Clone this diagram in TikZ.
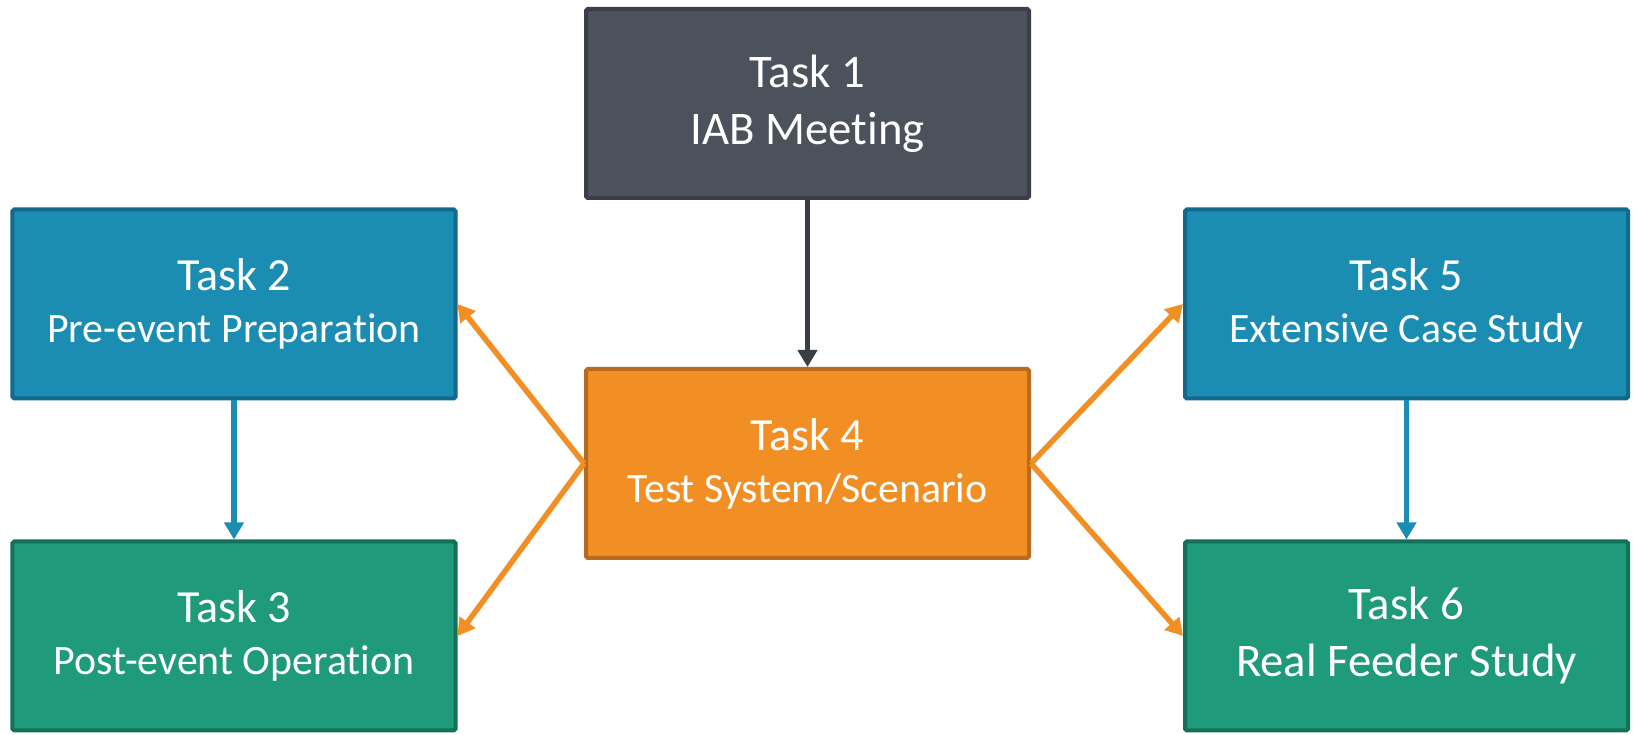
\documentclass[tikz,border=0pt]{standalone}
\usepackage{fontspec}
\setmainfont{Carlito}[Ligatures=NoCommon]
\usetikzlibrary{arrows.meta}

\definecolor{slatefill}{HTML}{4B525B}
\definecolor{slateline}{HTML}{3A3F46}
\definecolor{bluefill}{HTML}{1C8DB2}
\definecolor{blueline}{HTML}{13698B}
\definecolor{greenfill}{HTML}{1F9A7B}
\definecolor{greenline}{HTML}{15705A}
\definecolor{orangefill}{HTML}{F18F24}
\definecolor{orangeline}{HTML}{B86B1F}

\newcommand{\bigtxt}{\fontsize{26.6pt}{32.4pt}\selectfont}
\newcommand{\smalltxt}{\fontsize{23.8pt}{29.6pt}\selectfont}

\begin{document}
\begin{tikzpicture}[
    taskbox/.style={draw, line width=0.08cm, rounded corners=1pt,
      minimum width=8.86cm, minimum height=3.78cm, text=white,
      align=center},
    flow/.style={line width=0.11cm,
      -{Triangle[length=0.34cm,width=0.38cm]}}
  ]
  \useasboundingbox (0,0) rectangle (32.66,14.70);
  % task boxes
  \node[taskbox, fill=slatefill, draw=slateline, font=\bigtxt]
    (t1) at (16.15,12.63) {Task 1\\IAB Meeting};
  \node[taskbox, fill=orangefill, draw=orangeline, font=\fontsize{26.2pt}{29.6pt}\selectfont]
    (t4) at (16.15,5.43) {Task 4\\{\smalltxt Test System/Scenario}};
  \node[taskbox, fill=bluefill, draw=blueline, font=\fontsize{26.2pt}{29.6pt}\selectfont]
    (t2) at (4.68,8.62) {Task 2\\{\smalltxt Pre-event Preparation}};
  \node[taskbox, fill=greenfill, draw=greenline, font=\fontsize{26.2pt}{29.6pt}\selectfont]
    (t3) at (4.68,1.98) {Task 3\\{\smalltxt Post-event Operation}};
  \node[taskbox, fill=bluefill, draw=blueline, font=\fontsize{26.2pt}{29.6pt}\selectfont]
    (t5) at (28.13,8.62) {Task 5\\{\smalltxt Extensive Case Study}};
  \node[taskbox, fill=greenfill, draw=greenline, font=\bigtxt]
    (t6) at (28.13,1.98) {Task 6\\Real Feeder Study};
  % connectors
  \draw[flow, slateline] (t1.south) -- (t4.north);
  \draw[flow, bluefill] (t2.south) -- (t3.north);
  \draw[flow, bluefill] (t5.south) -- (t6.north);
  \draw[flow, orangefill] (t4.west) -- (t2.east);
  \draw[flow, orangefill] (t4.west) -- (t3.east);
  \draw[flow, orangefill] (t4.east) -- (t5.west);
  \draw[flow, orangefill] (t4.east) -- (t6.west);
\end{tikzpicture}
\end{document}
